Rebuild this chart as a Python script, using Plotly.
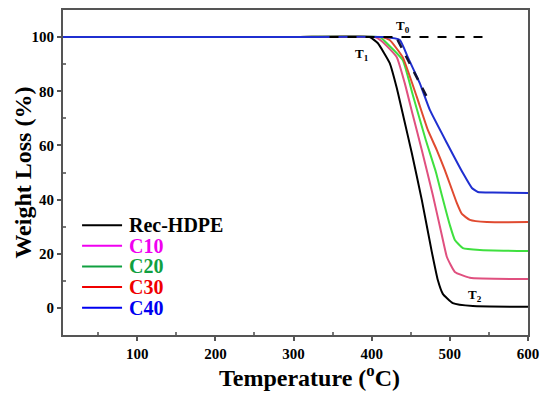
import plotly.graph_objects as go

# Data (Temperature in °C, Weight in %)
t_hdpe = [5, 300, 397.4, 407.7, 423.1, 432.1, 441.0, 451.3, 464.1, 476.9, 484.6, 491.0, 503.8, 529.5, 600]
w_hdpe = [100, 100, 100, 97.8, 90.4, 81.2, 70.1, 57.2, 39.9, 20.7, 10.3, 5.2, 1.8, 0.7, 0.4]

t_c10 = [5, 300, 403.8, 414.1, 432.1, 442.3, 452.6, 464.1, 478.2, 489.7, 496.2, 506.4, 525.6, 600]
w_c10 = [100, 100, 100, 98.2, 92.6, 83, 71.2, 58.3, 41.7, 26.9, 18.8, 13.3, 11.1, 10.7]

t_c20 = [5, 300, 410.3, 416.7, 439.7, 452.6, 469.2, 482.1, 489.7, 500, 506.4, 516.7, 538.5, 600]
w_c20 = [100, 100, 100, 98.5, 91.5, 78.6, 62, 50.2, 41.7, 30.6, 25.1, 22.1, 21.4, 21.0]

t_c30 = [5, 300, 413, 423, 439.7, 457.7, 471.8, 483.3, 493.6, 509, 515.4, 525.6, 547.4, 600]
w_c30 = [100, 100, 100, 98.9, 92.6, 77.9, 65.7, 58.3, 50.9, 38.7, 34.7, 32.5, 31.7, 31.7]

t_c40 = [5, 300, 417, 436, 446.2, 461.5, 474.4, 496.2, 516.7, 528.2, 535.9, 555, 600]
w_c40 = [100, 100, 100, 98.9, 92.6, 83, 73.1, 60.9, 49.8, 44.3, 42.8, 42.6, 42.4]

dash_h_t = [346, 545]
dash_h_w = [100, 100]
dash_t_t = [433, 474]
dash_t_w = [99, 76]

names = ["Rec-HDPE", "C10", "C20", "C30", "C40"]
curve_colors = ["#000000", "#e0507f", "#3fe03f", "#e04a30", "#1f2fd0"]
legend_colors = ["#000000", "#f000f0", "#10a040", "#f00000", "#0000f0"]
series = [(t_hdpe, w_hdpe), (t_c10, w_c10), (t_c20, w_c20), (t_c30, w_c30), (t_c40, w_c40)]

FONT = "Liberation Serif"
fig = go.Figure()

for (t, w), c, n in zip(series, curve_colors, names):
    fig.add_trace(go.Scatter(x=t, y=w, mode="lines", name=n,
                             line=dict(color=c, width=2, shape="spline", smoothing=0.4),
                             showlegend=False))

fig.add_trace(go.Scatter(x=dash_h_t, y=dash_h_w, mode="lines", line=dict(color="black", width=2, dash="dash"),
                         showlegend=False))
fig.add_trace(go.Scatter(x=dash_t_t, y=dash_t_w, mode="lines", line=dict(color="#111133", width=2.5, dash="dash"),
                         showlegend=False))

# Manual legend (paper coordinates), matching the compact row spacing of the reference
leg_y0, leg_dy = 0.338, 0.0635
for i, (n, lc) in enumerate(zip(names, legend_colors)):
    yy = leg_y0 - i * leg_dy
    fig.add_shape(type="line", xref="paper", yref="paper", x0=0.041, x1=0.127, y0=yy, y1=yy,
                  line=dict(color=lc, width=2))
    fig.add_annotation(xref="paper", yref="paper", x=0.137, y=yy, xanchor="left", yanchor="middle",
                       text=f"<b>{n}</b>", showarrow=False,
                       font=dict(family=FONT, size=20, color=lc))

for txt, x, y in [("T<sub>0</sub>", 440, 104), ("T<sub>1</sub>", 387, 93.5), ("T<sub>2</sub>", 532, 4.5)]:
    fig.add_annotation(x=x, y=y, text=f"<b>{txt}</b>", showarrow=False,
                       font=dict(family=FONT, size=13, color="black"))

axis_common = dict(showline=True, linecolor="#555555", linewidth=2, mirror=True, showgrid=False,
                   zeroline=False, ticks="outside", ticklen=4, tickwidth=1.5, tickcolor="#555555",
                   automargin=False,
                   tickfont=dict(family=FONT, size=15, color="black"))

fig.update_xaxes(range=[5, 600], tickvals=[100, 200, 300, 400, 500, 600],
                 ticktext=["<b>100</b>", "<b>200</b>", "<b>300</b>", "<b>400</b>", "<b>500</b>", "<b>600</b>"],
                 minor=dict(tickvals=[50, 150, 250, 350, 450, 550], ticks="inside", ticklen=3, tickcolor="#777777"),
                 **axis_common)
fig.update_yaxes(range=[-10, 110], tickvals=[0, 20, 40, 60, 80, 100],
                 ticktext=["<b>0</b>", "<b>20</b>", "<b>40</b>", "<b>60</b>", "<b>80</b>", "<b>100</b>"],
                 minor=dict(tickvals=[10, 30, 50, 70, 90], ticks="inside", ticklen=3, tickcolor="#777777"),
                 **axis_common)

# Axis titles placed as annotations for exact placement
fig.add_annotation(xref="paper", yref="paper", x=0.53, y=-0.125, yanchor="middle",
                   text="<b>Temperature (<sup>o</sup>C)</b>", showarrow=False,
                   font=dict(family=FONT, size=24, color="black"))
fig.add_annotation(xref="paper", yref="paper", x=-0.088, y=0.5, xanchor="center", yanchor="middle",
                   text="<b>Weight Loss (%)</b>", showarrow=False, textangle=-90,
                   font=dict(family=FONT, size=24, color="black"))

# The page body adds an 8 px margin, so the figure is sized to fit the 550x397 window
fig.update_layout(
    width=542, height=389,
    margin=dict(l=55, r=22, t=2, b=62),
    plot_bgcolor="white", paper_bgcolor="white",
    showlegend=False,
)
fig.write_html("out.html")
